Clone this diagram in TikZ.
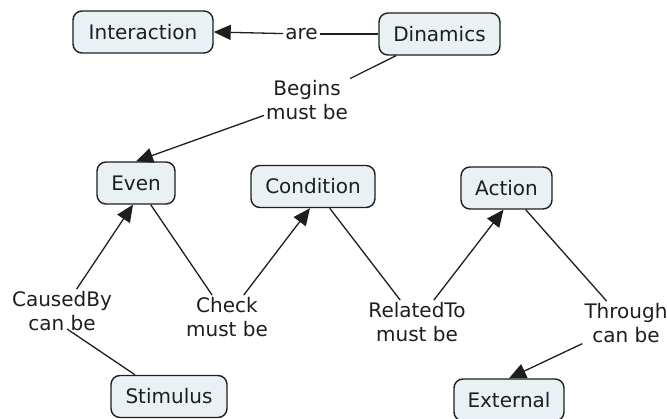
\documentclass[tikz,border=0pt]{standalone}
\usepackage{fontspec}
\setmainfont{DejaVu Sans}
\usetikzlibrary{arrows.meta}
\definecolor{boxfill}{RGB}{233,241,244}
\definecolor{ink}{RGB}{30,30,30}
\begin{document}
\begin{tikzpicture}[x=1pt,y=-1pt,
  concept/.style={draw=ink, fill=boxfill, rounded corners=9pt, line width=1.4pt,
    minimum height=42pt, inner sep=0pt, font=\fontsize{20}{24}\selectfont, text=ink},
  linklabel/.style={align=center, inner sep=2pt, font=\fontsize{20}{24}\selectfont, text=ink},
  conn/.style={draw=ink, line width=1.3pt},
  arr/.style={conn, -{Triangle[length=17pt,width=15pt]}}
]
\useasboundingbox (0,0) rectangle (667,419);

% concepts
\node[concept, minimum width=140pt] (inter) at (143,32) {Interaction};
\node[concept, minimum width=121pt] (dyn) at (439.5,34) {Dinamics};
\node[concept, minimum width=78pt] (even) at (136,183) {Even};
\node[concept, minimum width=124pt] (cond) at (313,186.5) {Condition};
\node[concept, minimum width=91pt] (act) at (506.5,188) {Action};
\node[concept, minimum width=116pt] (stim) at (169,396.5) {Stimulus};
\node[concept, minimum width=110pt] (ext) at (509,400) {External};

% linking phrases
\node[linklabel] (are) at (301.5,34) {are};
\node[linklabel] (begins) at (307,100) {Begins\\must be};
\node[linklabel] (caused) at (62,311) {CausedBy\\can be};
\node[linklabel] (check) at (227,317) {Check\\must be};
\node[linklabel] (related) at (417,322) {RelatedTo\\must be};
\node[linklabel] (through) at (626,323) {Through\\can be};

% connectors
\draw[conn] (dyn) -- (are);
\draw[arr] (are) -- (inter.east);
\draw[conn] (dyn) -- (begins);
\draw[arr] (begins) -- (even.north);
\draw[conn] ([xshift=-34pt]stim.north) -- ([xshift=5pt,yshift=4pt]caused.south);
\draw[arr] (caused) -- ([xshift=-3pt]even.south);
\draw[conn] (even) -- (check);
\draw[arr] (check) -- ([xshift=-3pt]cond.south);
\draw[conn] (cond) -- (related);
\draw[arr] (related) -- ([xshift=-3pt]act.south);
\draw[conn] (act) -- (through);
\draw[arr] (through) -- (ext.north);
\end{tikzpicture}
\end{document}
